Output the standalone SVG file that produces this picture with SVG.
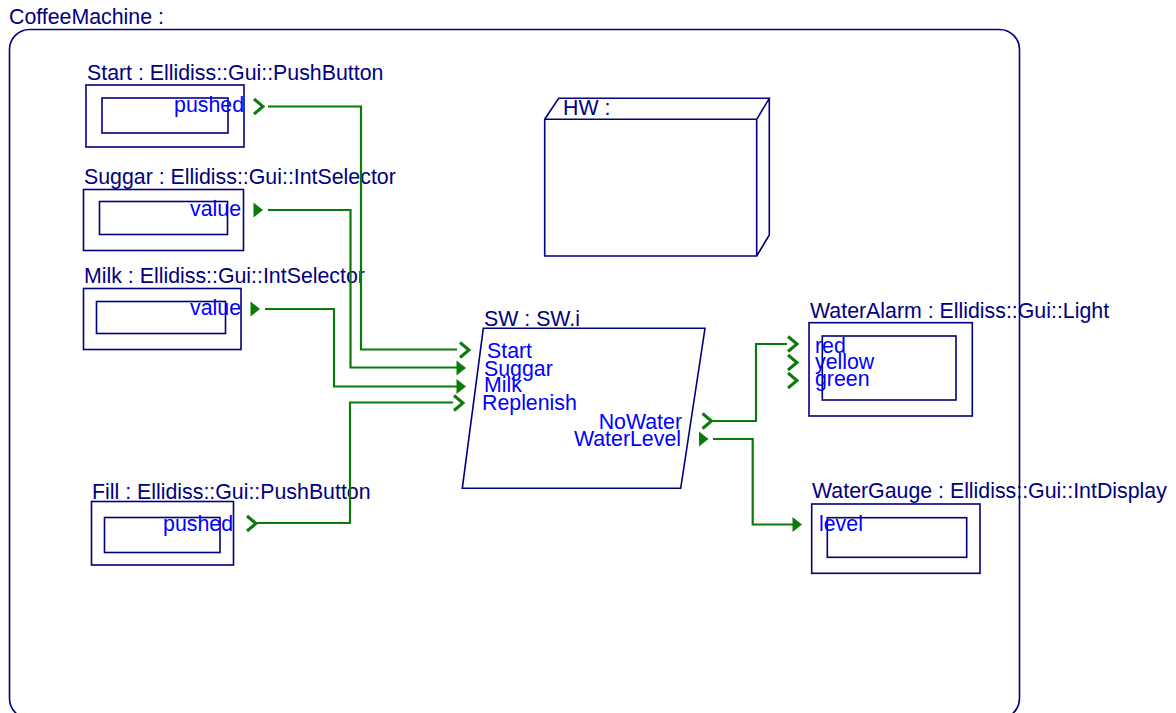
<svg xmlns="http://www.w3.org/2000/svg" xmlns:xlink="http://www.w3.org/1999/xlink" width="1176" height="713" viewBox="0 0 1176 713">
<style>
.box{fill:none;stroke:#000080;stroke-width:1.6}
.lbl{font-family:"Liberation Sans",Arial,sans-serif;font-size:21.33px;fill:#000080}
.port{font-family:"Liberation Sans",Arial,sans-serif;font-size:21.33px;fill:#0000ff}
.end{text-anchor:end}
.wire{fill:none;stroke:#0b7a0b;stroke-width:2.2}
.chev{fill:none;stroke:#0b7a0b;stroke-width:3}
.tri{fill:#0b7a0b;stroke:none}
</style>
<defs>
<path id="chev" class="chev" d="M-9,-7.5 L0,0 L-9,7.5"/>
<path id="tri" class="tri" d="M-9.5,-7.5 L0,0 L-9.5,7.5 Z"/>
</defs>
<rect width="1176" height="713" fill="#ffffff"/>

<g id="CoffeeMachine">
<text class="lbl" x="9" y="24">CoffeeMachine :</text>
<rect class="box" x="9.5" y="29.5" width="1010" height="689" rx="20" ry="20"/>
</g>

<g id="Start">
<text class="lbl" x="87" y="80">Start : Ellidiss::Gui::PushButton</text>
<rect class="box" x="86" y="85" width="158" height="62"/>
<rect class="box" x="102" y="98" width="126" height="35"/>
<text class="port end" x="244" y="112">pushed</text>
<use xlink:href="#chev" x="263" y="106.5"/>
</g>

<g id="Suggar">
<text class="lbl" x="84" y="184">Suggar : Ellidiss::Gui::IntSelector</text>
<rect class="box" x="83.5" y="189.5" width="160" height="61"/>
<rect class="box" x="99.5" y="201.5" width="128" height="33"/>
<text class="port end" x="241" y="216">value</text>
<use xlink:href="#tri" x="263" y="210"/>
</g>

<g id="Milk">
<text class="lbl" x="84" y="283">Milk : Ellidiss::Gui::IntSelector</text>
<rect class="box" x="83.5" y="288.5" width="157.5" height="61"/>
<rect class="box" x="96.5" y="301.5" width="129" height="32"/>
<text class="port end" x="241" y="315">value</text>
<use xlink:href="#tri" x="260" y="309"/>
</g>

<g id="Fill">
<text class="lbl" x="92" y="499">Fill : Ellidiss::Gui::PushButton</text>
<rect class="box" x="91.5" y="501.5" width="142" height="63.5"/>
<rect class="box" x="104.5" y="517.5" width="115.5" height="35"/>
<text class="port end" x="233" y="531">pushed</text>
<use xlink:href="#chev" x="256" y="523.5"/>
</g>

<g id="HW">
<path class="box" d="M544.7,119.3 L756.7,119.3 L756.7,256 L544.7,256 Z M544.7,119.3 L558.7,98.3 L769.3,98.3 L756.7,119.3 M769.3,98.3 L769.3,235 L756.7,256"/>
<text class="lbl" x="563" y="115">HW :</text>
</g>

<g id="SW">
<text class="lbl" x="484" y="326">SW : SW.i</text>
<path class="box" d="M483.3,328.3 L705,328.3 L680.7,488.3 L462.3,488.3 Z"/>
<text class="port" x="487" y="358">Start</text>
<text class="port" x="484" y="376">Suggar</text>
<text class="port" x="484" y="392">Milk</text>
<text class="port" x="482" y="410">Replenish</text>
<text class="port end" x="682" y="429">NoWater</text>
<text class="port end" x="681" y="446">WaterLevel</text>
<use xlink:href="#chev" x="469" y="350"/>
<use xlink:href="#tri" x="466" y="368"/>
<use xlink:href="#tri" x="466" y="386.5"/>
<use xlink:href="#chev" x="463" y="403"/>
<use xlink:href="#chev" x="711.5" y="421"/>
<use xlink:href="#tri" x="708.5" y="439"/>
</g>

<g id="WaterAlarm">
<text class="lbl" x="810" y="318">WaterAlarm : Ellidiss::Gui::Light</text>
<rect class="box" x="809" y="322.7" width="163.3" height="93.3"/>
<rect class="box" x="822.3" y="336" width="133.7" height="64"/>
<text class="port" x="815" y="352.5">red</text>
<text class="port" x="815" y="369">yellow</text>
<text class="port" x="815" y="386">green</text>
<use xlink:href="#chev" x="797" y="344"/>
<use xlink:href="#chev" x="797" y="362.5"/>
<use xlink:href="#chev" x="797" y="380.5"/>
</g>

<g id="WaterGauge">
<text class="lbl" x="812" y="498">WaterGauge : Ellidiss::Gui::IntDisplay</text>
<rect class="box" x="811.7" y="504" width="168.3" height="69.3"/>
<rect class="box" x="827.3" y="517.7" width="139.4" height="39.6"/>
<text class="port" x="819" y="531">level</text>
<use xlink:href="#tri" x="802" y="524.5"/>
</g>

<g id="connectors">
<polyline class="wire" points="268,106.5 361,106.5 361,349.5 457,349.5"/>
<polyline class="wire" points="268,210 350.5,210 350.5,367.5 457,367.5"/>
<polyline class="wire" points="265,309 334,309 334,386.5 457,386.5"/>
<polyline class="wire" points="256,523 350,523 350,402.5 453,402.5"/>
<polyline class="wire" points="713,421 756,421 756,344 787,344"/>
<polyline class="wire" points="713,439 752.7,439 752.7,524.5 793,524.5"/>
</g>
</svg>
